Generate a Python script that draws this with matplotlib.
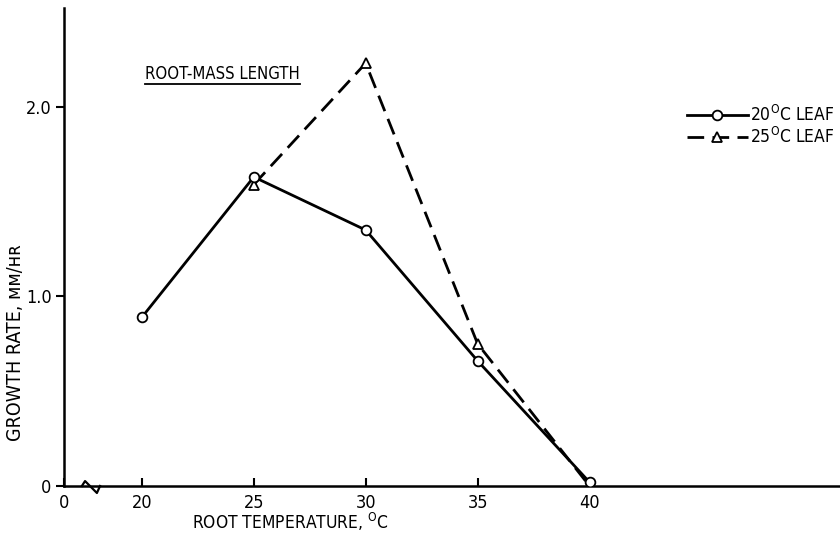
import matplotlib.pyplot as plt
import numpy as np

plt.rcParams['font.family'] = ['DejaVu Sans']
plt.rcParams['font.stretch'] = 'condensed'

# Data
root_temp = np.array([20, 25, 30, 35, 40])
leaf_20 = np.array([0.89, 1.63, 1.35, 0.66, 0.02])
temp_25 = np.array([25, 30, 35, 40])
leaf_25 = np.array([1.59, 2.23, 0.75, 0.0])
x_ticks = [20, 25, 30, 35, 40]
y_ticks = [0, 1.0, 2.0]
y_labels = ['0', '1.0', '2.0']

# the x axis is broken between 0 and 20
x_zero = 16.52

fig = plt.figure(figsize=(8.4, 5.38), dpi=100)
ax = fig.add_axes([0.0762, 0.0967, 0.924, 0.888])

ax.plot(root_temp, leaf_20, color='black', lw=2, marker='o', ms=7,
        mfc='white', mec='black', mew=1.3, label=r'20$^{\rm O}$C LEAF', zorder=3)
ax.plot(temp_25, leaf_25, color='black', lw=2, ls=(0, (6, 3)), marker='^', ms=7,
        mfc='white', mec='black', mew=1.3, label=r'25$^{\rm O}$C LEAF', zorder=2)

ax.set_xlim(x_zero, 51.2)
ax.set_ylim(0, 2.52)
ax.spines['top'].set_visible(False)
ax.spines['right'].set_visible(False)
ax.spines['left'].set_linewidth(1.8)
ax.spines['bottom'].set_linewidth(1.8)

ax.set_xticks([x_zero] + x_ticks)
ax.set_xticklabels(['0'] + [str(t) for t in x_ticks], fontsize=13)
ax.tick_params(axis='x', direction='in', length=6, width=1.5, pad=6)
ax.set_yticks(y_ticks)
ax.set_yticklabels(y_labels, fontsize=13)
ax.tick_params(axis='y', direction='out', length=6, width=1.5, pad=3)

# break mark on the x axis
bx = [17.32, 17.46, 17.99, 18.13]
by = [0.0, 0.026, -0.037, 0.0]
ax.plot(bx, by, color='black', lw=1.6, clip_on=False)

ax.set_xlabel(r'ROOT TEMPERATURE, $^{\rm O}$C', fontsize=12.5)
ax.xaxis.set_label_coords(0.291, -0.052)
fig.text(0.018, 0.364, 'GROWTH RATE, ᴍᴍ/ʜʀ', rotation=90, fontsize=14,
         ha='center', va='center')

ax.text(0.104, 0.852, 'ROOT-MASS LENGTH', transform=ax.transAxes, fontsize=12)
ax.plot([0.104, 0.304], [0.842, 0.842], transform=ax.transAxes, color='black', lw=1.3)

ax.legend(loc='upper right', bbox_to_anchor=(1.012, 0.83), frameon=False,
          fontsize=12.5, handlelength=3.5, handletextpad=0.1, labelspacing=0.1)

fig.savefig('out.png', dpi=100)
